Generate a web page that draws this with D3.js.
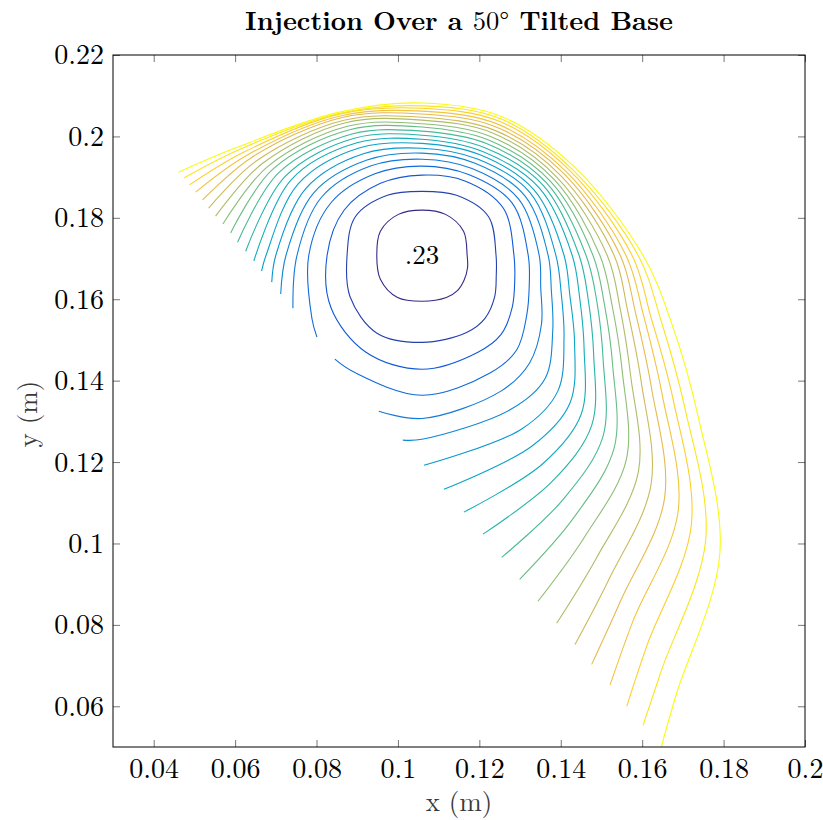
<!DOCTYPE html>
<html>
<head>
<meta charset="utf-8">
<script src="https://cdn.jsdelivr.net/npm/d3@7"></script>
<style>
  body { margin: 0; background: #fff; }
  text { font-family: "Latin Modern Roman", "Liberation Serif", serif; }
</style>
</head>
<body>
<div id="chart"></div>
<script>
// contours, in polar form around the centre of the
// innermost ring. radii in mm along each ray, null where the line is cut
var center = [0.1059, 0.1708];
var rayAngles = [180, 150, 120, 90, 60, 30, 0, -15, -30, -45, -60, -90, -120, -150];
var radii = [
  [11.1, 11.8, 11.6, 11.1, 11.6, 11.8, 11.1, 11.6, 12.0, 12.3, 12.0, 11.3, 12.0, 11.8],
  [18.4, 18.9, 17.0, 15.7, 17.0, 18.9, 18.2, 18.9, 20.6, 21.9, 21.9, 21.4, 22.1, 20.4],
  [23.3, 22.1, 20.4, 19.7, 21.1, 23.1, 22.6, 23.6, 25.6, 27.5, 27.5, 28.0, 27.5, 25.8],
  [27.8, 25.8, 23.1, 21.9, 22.9, 25.6, 26.1, 27.3, 29.7, 32.9, 33.4, 34.4, 33.2, 31.2],
  [30.7, 28.5, 25.3, 23.6, 24.6, 27.5, 28.8, 30.2, 33.9, 37.4, 38.6, 40.1, null, null],
  [33.4, 30.7, 27.0, 25.1, 26.1, 29.2, 31.0, 32.9, 37.1, 42.8, 43.7, 45.2, null, null],
  [35.9, 32.9, 28.8, 26.3, 27.3, 30.7, 32.9, 35.4, 40.3, 47.2, 49.2, null, null, null],
  [38.3, 35.1, 30.5, 27.5, 28.5, 31.9, 34.9, 37.6, 43.3, 51.4, 54.1, null, null, null],
  [null, 37.1, 31.9, 28.5, 29.5, 33.2, 36.9, 40.1, 46.0, 55.3, 59.2, null, null, null],
  [null, 38.8, 33.2, 29.5, 30.6, 34.4, 38.6, 42.3, 48.7, 59.0, 64.1, null, null, null],
  [null, 40.6, 34.4, 30.5, 31.7, 35.4, 40.3, 44.5, 51.4, 62.9, 69.3, null, null, null],
  [null, 42.3, 35.6, 31.5, 32.7, 36.4, 42.0, 46.4, 54.1, 66.8, 74.5, null, null, null],
  [null, 43.7, 36.6, 32.3, 33.7, 37.4, 43.7, 48.4, 56.8, 71.0, 79.9, null, null, null],
  [null, 45.2, 37.6, 33.2, 34.7, 38.3, 45.5, 50.4, 59.2, 75.2, 85.8, null, null, null],
  [null, 46.7, 38.3, 33.9, 35.5, 39.3, 47.2, 52.3, 62.2, 79.6, 91.9, null, null, null],
  [null, 48.2, 39.1, 34.7, 36.4, 40.2, 48.7, 54.3, 65.1, 84.3, 97.8, null, null, null],
  [null, 49.4, 39.6, 35.4, 37.2, 41.0, 50.1, 56.3, 68.1, 89.0, 103.7, null, null, null],
  [null, 50.6, 40.1, 36.1, 38.0, 41.8, 51.6, 58.2, 71.3, 93.6, 110.6, null, null, null],
  [null, 51.9, 40.3, 36.7, 38.7, 42.5, 53.1, 60.7, 74.5, 98.6, 117.7, null, null, null],
  [null, 52.8, 40.6, 37.4, 39.3, 43.3, 54.3, 63.4, 78.2, 103.5, 124.8, null, null, null]
];
// where the open lines stop (first three rings are closed)
var leftEnds = [null, null, null,
  [0.0801, 0.1507], [0.0742, 0.1578], [0.0712, 0.1613], [0.0690, 0.1642], [0.0665, 0.1669],
  [0.0646, 0.1694], [0.0626, 0.1718], [0.0606, 0.1740], [0.0589, 0.1763], [0.0570, 0.1785],
  [0.0552, 0.1804], [0.0535, 0.1824], [0.0520, 0.1844], [0.0503, 0.1863], [0.0488, 0.1881],
  [0.0474, 0.1898], [0.0461, 0.1912]];
var rightEnds = [null, null, null,
  [0.0845, 0.1453], [0.0953, 0.1325], [0.1012, 0.1254], [0.1064, 0.1192], [0.1113, 0.1133],
  [0.1162, 0.1077], [0.1209, 0.1023], [0.1255, 0.0966], [0.1299, 0.0912], [0.1344, 0.0858],
  [0.1390, 0.0804], [0.1435, 0.0752], [0.1476, 0.0703], [0.1521, 0.0652], [0.1562, 0.0600],
  [0.1602, 0.0553], [0.1646, 0.0497]];
var peakLabel = ".23";

var xTicks = [0.04, 0.06, 0.08, 0.1, 0.12, 0.14, 0.16, 0.18, 0.2];
var yTicks = [0.06, 0.08, 0.1, 0.12, 0.14, 0.16, 0.18, 0.2, 0.22];
var parula = ["#352a87", "#0f5cdd", "#127dd8", "#079ccf", "#15b1b4", "#59bd8c", "#a5be6b", "#e1b952", "#fcce2e", "#f9fb0e"];

var margin = {top: 55, right: 18, bottom: 73, left: 113};
var width = 692, height = 692;

var svg = d3.select("#chart").append("svg")
    .attr("width", width + margin.left + margin.right)
    .attr("height", height + margin.top + margin.bottom);
var g = svg.append("g").attr("transform", "translate(" + margin.left + "," + margin.top + ")");

var x = d3.scaleLinear().domain([0.03, 0.2]).range([0, width]);
var y = d3.scaleLinear().domain([0.05, 0.22]).range([height, 0]);
var color = d3.scaleLinear()
    .domain(parula.map(function(c, i){ return i / (parula.length - 1); }))
    .range(parula);

g.append("clipPath").attr("id", "plotclip")
  .append("rect").attr("width", width).attr("height", height);

function polar(a, r){
    var t = a * Math.PI / 180;
    return [center[0] + r / 1000 * Math.cos(t), center[1] + r / 1000 * Math.sin(t)];
}
function angleOf(p){
    return Math.atan2(p[1] - center[1], p[0] - center[0]) * 180 / Math.PI;
}

function contourPoints(i){
    var r = radii[i];
    if(!leftEnds[i]){
        return rayAngles.map(function(a, k){ return polar(a, r[k]); });
    }
    var a0 = angleOf(leftEnds[i]), a1 = angleOf(rightEnds[i]);
    var span = ((a0 - a1) % 360 + 360) % 360;
    var mid = rayAngles.map(function(a, k){
            return {d: ((a0 - a) % 360 + 360) % 360, r: r[k], a: a};
        })
        .filter(function(o){ return o.r != null && o.d > 3 && o.d < span - 3; })
        .sort(function(p, q){ return p.d - q.d; })
        .map(function(o){ return polar(o.a, o.r); });
    return [leftEnds[i]].concat(mid, [rightEnds[i]]);
}

var lineOpen = d3.line().x(function(d){ return x(d[0]); }).y(function(d){ return y(d[1]); })
    .curve(d3.curveCatmullRom.alpha(0.5));
var lineClosed = d3.line().x(function(d){ return x(d[0]); }).y(function(d){ return y(d[1]); })
    .curve(d3.curveCatmullRomClosed.alpha(0.5));

var lines = g.append("g").attr("clip-path", "url(#plotclip)");
radii.forEach(function(r, i){
    var pts = contourPoints(i);
    lines.append("path")
        .attr("d", leftEnds[i] ? lineOpen(pts) : lineClosed(pts))
        .attr("fill", "none")
        .attr("stroke", color(i / (radii.length - 1)))
        .attr("stroke-width", 1.1);
});

g.append("text")
    .attr("x", x(center[0]))
    .attr("y", y(center[1]))
    .attr("dy", "0.33em")
    .attr("text-anchor", "middle")
    .style("font-size", "27px")
    .text(peakLabel);

// axes: ticks point inward and are mirrored on the opposite side
var fmt = function(d){ return String(+d.toFixed(2)); };
var tick = 7;
var axBottom = g.append("g").attr("transform", "translate(0," + height + ")")
    .call(d3.axisBottom(x).tickValues(xTicks).tickFormat(fmt).tickSize(-tick).tickPadding(11));
var axTop = g.append("g")
    .call(d3.axisTop(x).tickValues(xTicks).tickFormat("").tickSize(-tick));
var axLeft = g.append("g")
    .call(d3.axisLeft(y).tickValues(yTicks).tickFormat(fmt).tickSize(-tick).tickPadding(9));
var axRight = g.append("g").attr("transform", "translate(" + width + ",0)")
    .call(d3.axisRight(y).tickValues(yTicks).tickFormat("").tickSize(-tick));

[axBottom, axTop, axLeft, axRight].forEach(function(a){
    a.select(".domain").remove();
    a.selectAll(".tick line").attr("stroke", "#777");
    a.selectAll("text").attr("fill", "#000").style("font-size", "28px")
        .style("font-family", "'Latin Modern Roman', 'Liberation Serif', serif");
});

g.append("rect").attr("width", width).attr("height", height)
    .attr("fill", "none").attr("stroke", "#000").attr("stroke-width", 1);

// title and axis labels
var title = svg.append("text")
    .attr("x", margin.left + width / 2).attr("y", 30)
    .attr("text-anchor", "middle")
    .style("font-size", "26.5px");
title.append("tspan").style("font-weight", "bold").text("Injection Over a ");
title.append("tspan").text("50°");
title.append("tspan").style("font-weight", "bold").text(" Tilted Base");

svg.append("text")
    .attr("x", margin.left + width / 2).attr("y", 811)
    .attr("text-anchor", "middle")
    .attr("fill", "#3a3a3a")
    .style("font-size", "27px")
    .text("x (m)");

svg.append("text")
    .attr("transform", "translate(37,414) rotate(-90)")
    .attr("text-anchor", "middle")
    .attr("fill", "#3a3a3a")
    .style("font-size", "27px")
    .text("y (m)");
</script>
</body>
</html>
